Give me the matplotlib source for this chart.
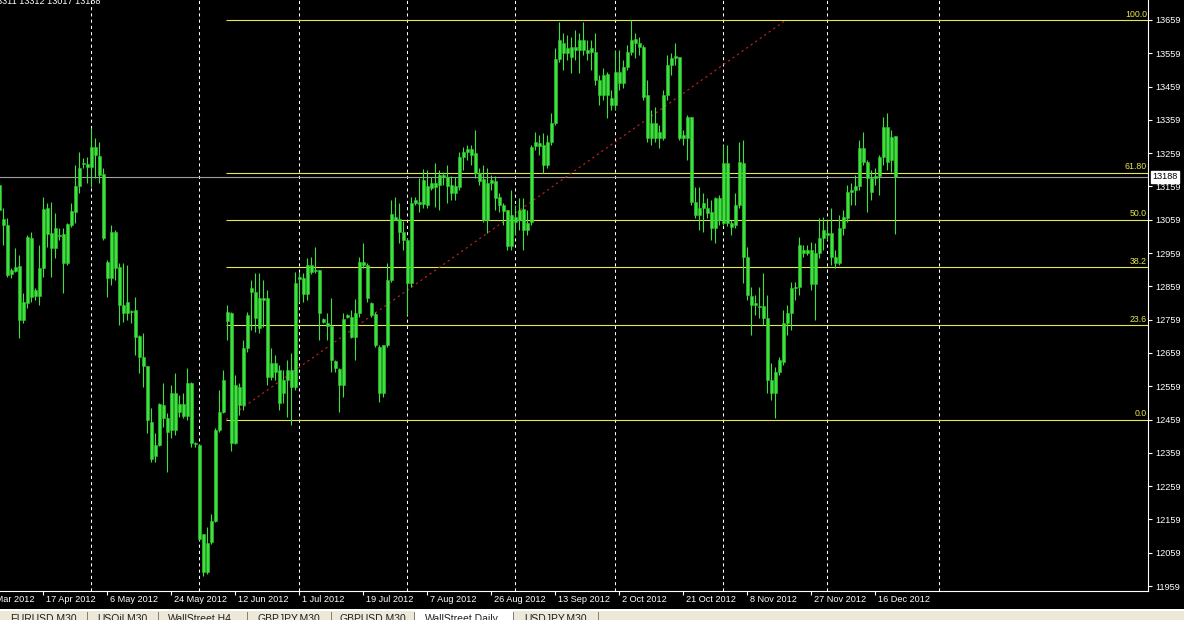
# -*- coding: utf-8 -*-
"""WallStreet daily candles with a Fibonacci retracement, MT4 style."""

import matplotlib
matplotlib.use('Agg')
import matplotlib.pyplot as plt
from matplotlib.patches import Rectangle
from matplotlib.transforms import blended_transform_factory

plt.rcParams['font.family'] = ['Liberation Sans', 'DejaVu Sans']

# Daily bars, index 0 = first bar on screen (late March 2012).
opens = [
    13164, 13062, 13044, 12897, 12906, 12921, 12759, 12810, 13005, 12831, 12831, 12915, 13095, 13020, 12975,
    13014, 13017, 12930, 13044, 13083, 13161, 13230, 13227, 13218, 13278, 13251, 13197, 12933, 12885, 13023,
    12918, 12804, 12780, 12786, 12789, 12711, 12648, 12621, 12453, 12348, 12381, 12504, 12465, 12429, 12540,
    12507, 12471, 12471, 12570, 12390, 12381, 12114, 12000, 12090, 12153, 12429, 12483, 12756, 12780, 12390,
    12558, 12504, 12675, 12855, 12843, 12735, 12825, 12825, 12588, 12630, 12609, 12540, 12579, 12609, 12558,
    12888, 12885, 12837, 12924, 12906, 12909, 12762, 12750, 12741, 12636, 12612, 12564, 12774, 12768, 12708,
    12780, 12933, 12924, 12810, 12777, 12678, 12540, 12684, 12879, 13068, 13062, 13023, 12999, 12870, 13110,
    13113, 13107, 13161, 13155, 13170, 13164, 13194, 13188, 13164, 13140, 13158, 13248, 13263, 13272, 13260,
    13200, 13182, 13059, 13170, 13174, 13128, 13104, 13089, 12979, 13068, 13059, 13092, 13029, 13053, 13280,
    13290, 13284, 13224, 13293, 13350, 13542, 13590, 13560, 13578, 13569, 13569, 13599, 13569, 13563, 13563,
    13479, 13434, 13497, 13425, 13404, 13503, 13470, 13518, 13563, 13602, 13590, 13578, 13434, 13305, 13350,
    13305, 13305, 13434, 13524, 13545, 13548, 13305, 13305, 13368, 13113, 13074, 13095, 13095, 13083, 13035,
    13125, 13050, 13230, 13050, 13044, 13104, 13230, 12948, 12831, 12810, 12801, 12801, 12765, 12579, 12540,
    12603, 12633, 12750, 12780, 12855, 12858, 12969, 12960, 12969, 12867, 12960, 13005, 13020, 13020, 12948,
    12930, 13035, 13065, 13143, 13149, 13161, 13275, 13233, 13185, 13185, 13191, 13248, 13338, 13239, 13311,
]
highs = [
    13179, 13095, 13065, 12915, 12975, 12954, 12840, 13014, 13023, 12855, 12984, 13128, 13110, 13113, 13080,
    13035, 13035, 13050, 13110, 13224, 13263, 13245, 13248, 13335, 13305, 13293, 13215, 12939, 13044, 13029,
    12930, 12930, 12924, 12789, 12828, 12714, 12720, 12621, 12495, 12420, 12510, 12570, 12480, 12564, 12600,
    12534, 12540, 12615, 12573, 12393, 12384, 12114, 12135, 12174, 12435, 12549, 12609, 12804, 12783, 12594,
    12570, 12699, 12783, 12879, 12900, 12900, 12879, 12849, 12675, 12654, 12624, 12609, 12639, 12660, 12903,
    12903, 12900, 12945, 12948, 12978, 12909, 12765, 12780, 12825, 12639, 12615, 12780, 12777, 12789, 12822,
    12948, 12990, 12930, 12813, 12783, 12684, 12684, 12930, 13119, 13128, 13110, 13054, 13005, 13128, 13128,
    13185, 13212, 13209, 13188, 13230, 13209, 13203, 13224, 13191, 13188, 13263, 13278, 13284, 13284, 13329,
    13215, 13224, 13215, 13194, 13191, 13140, 13110, 13089, 13149, 13104, 13125, 13125, 13089, 13284, 13323,
    13314, 13320, 13314, 13380, 13575, 13653, 13620, 13614, 13608, 13629, 13620, 13653, 13599, 13599, 13620,
    13494, 13515, 13503, 13449, 13569, 13569, 13539, 13584, 13659, 13620, 13608, 13584, 13479, 13389, 13398,
    13344, 13449, 13554, 13560, 13590, 13548, 13329, 13374, 13368, 13158, 13158, 13140, 13125, 13119, 13128,
    13134, 13284, 13284, 13059, 13140, 13293, 13299, 12978, 12858, 12834, 12858, 12900, 12834, 12630, 12618,
    12648, 12789, 12804, 12873, 12873, 13008, 12984, 12984, 12993, 12990, 13065, 13068, 13059, 13095, 12969,
    13074, 13089, 13164, 13170, 13194, 13299, 13323, 13239, 13209, 13215, 13254, 13368, 13380, 13329, 13312,
]
lows = [
    12990, 12984, 12888, 12885, 12903, 12705, 12750, 12795, 12813, 12819, 12804, 12888, 12978, 12888, 12945,
    12999, 12840, 12924, 13038, 13050, 13140, 13215, 13170, 13158, 13185, 13170, 12999, 12828, 12864, 12879,
    12744, 12753, 12759, 12750, 12654, 12600, 12558, 12420, 12330, 12330, 12378, 12438, 12300, 12405, 12414,
    12468, 12465, 12459, 12375, 12375, 12096, 11988, 11994, 12084, 12150, 12423, 12480, 12699, 12363, 12384,
    12474, 12489, 12663, 12729, 12723, 12720, 12738, 12564, 12579, 12579, 12489, 12510, 12468, 12444, 12549,
    12813, 12813, 12819, 12897, 12900, 12699, 12750, 12699, 12603, 12603, 12483, 12528, 12765, 12705, 12639,
    12768, 12915, 12813, 12768, 12678, 12513, 12528, 12678, 12873, 13059, 12990, 12969, 12774, 12858, 13104,
    13083, 13095, 13095, 13149, 13098, 13089, 13164, 13110, 13119, 13119, 13149, 13209, 13239, 13224, 13185,
    13164, 13053, 13020, 13149, 13089, 13083, 13044, 12969, 12969, 13014, 13029, 12969, 13014, 13044, 13269,
    13254, 13200, 13215, 13284, 13344, 13533, 13509, 13539, 13500, 13539, 13500, 13554, 13539, 13509, 13464,
    13404, 13419, 13365, 13389, 13389, 13449, 13455, 13509, 13554, 13545, 13554, 13419, 13293, 13284, 13293,
    13275, 13299, 13419, 13494, 13524, 13299, 13284, 13239, 13104, 13065, 13029, 13023, 13065, 12999, 12990,
    13044, 13044, 13041, 13014, 13035, 13095, 12870, 12819, 12714, 12774, 12765, 12744, 12540, 12519, 12465,
    12594, 12624, 12714, 12729, 12819, 12834, 12948, 12954, 12849, 12759, 12945, 12969, 12999, 12924, 12915,
    12924, 13014, 13053, 13104, 13104, 13149, 13224, 13083, 13119, 13164, 13134, 13224, 13209, 13203, 13017,
]
closes = [
    13089, 13044, 12894, 12909, 12918, 12759, 12813, 13008, 12828, 12849, 12915, 13092, 13017, 12975, 13035,
    13011, 12930, 13047, 13086, 13161, 13215, 13225, 13218, 13278, 13254, 13194, 13005, 12885, 13023, 12915,
    12804, 12780, 12813, 12783, 12708, 12648, 12621, 12459, 12339, 12381, 12507, 12465, 12423, 12540, 12429,
    12483, 12507, 12570, 12390, 12384, 12099, 12000, 12087, 12153, 12429, 12483, 12579, 12783, 12390, 12564,
    12504, 12675, 12774, 12843, 12765, 12825, 12819, 12588, 12630, 12603, 12510, 12579, 12609, 12558, 12870,
    12882, 12837, 12924, 12903, 12909, 12780, 12753, 12741, 12639, 12615, 12564, 12762, 12768, 12708, 12780,
    12933, 12924, 12825, 12774, 12684, 12540, 12684, 12879, 13077, 13059, 13023, 12999, 12870, 13110, 13119,
    13107, 13179, 13104, 13170, 13158, 13194, 13188, 13161, 13140, 13161, 13248, 13263, 13272, 13254, 13200,
    13176, 13059, 13170, 13179, 13125, 13104, 13086, 12981, 13074, 13053, 13089, 13029, 13050, 13278, 13294,
    13282, 13224, 13293, 13350, 13542, 13599, 13560, 13575, 13548, 13578, 13599, 13569, 13560, 13575, 13479,
    13434, 13494, 13434, 13404, 13503, 13470, 13518, 13563, 13599, 13590, 13578, 13428, 13305, 13350, 13305,
    13323, 13434, 13524, 13545, 13551, 13305, 13314, 13368, 13113, 13074, 13095, 13110, 13080, 13035, 13125,
    13059, 13230, 13050, 13038, 13104, 13233, 12948, 12834, 12804, 12804, 12798, 12765, 12579, 12540, 12603,
    12639, 12750, 12780, 12855, 12858, 12984, 12960, 12969, 12867, 12960, 13005, 13029, 13014, 12948, 12930,
    13035, 13068, 13143, 13149, 13161, 13275, 13233, 13185, 13143, 13191, 13248, 13338, 13233, 13308, 13188,
]
assert len(opens) == len(highs) == len(lows) == len(closes)

date_ticks = [-5, 11, 27, 43, 59, 75, 91, 107, 123, 139, 155, 171, 187, 203, 219]
date_labels = ['29 Mar 2012', '17 Apr 2012', '6 May 2012', '24 May 2012',
               '12 Jun 2012', '1 Jul 2012', '19 Jul 2012', '7 Aug 2012',
               '26 Aug 2012', '13 Sep 2012', '2 Oct 2012', '21 Oct 2012',
               '8 Nov 2012', '27 Nov 2012', '16 Dec 2012']
month_starts = [23, 50, 75, 102, 129, 154, 181, 207, 235]
price_ticks = [11959, 12059, 12159, 12259, 12359, 12459, 12559, 12659, 12759,
               12859, 12959, 13059, 13159, 13259, 13359, 13459, 13559, 13659]

fib_low, fib_high = 12459, 13659
fib_anchor_bars = (56.7, 196.7)
fib_levels = [0.0, 23.6, 38.2, 50.0, 61.8, 100.0]
fib_labels = ['0.0', '23.6', '38.2', '50.0', '61.80', '100.0']
last_price = 13188
ohlc_caption = '13311 13312 13017 13188'

tabs = ['EURUSD,M30', 'USOil,M30', 'WallStreet,H4', 'GBPJPY,M30',
        'GBPUSD,M30', 'WallStreet,Daily', 'USDJPY,M30']
tab_left_px = [10, 97, 168, 258, 340, 425, 524]
tab_sep_px = [87, 158, 247, 331, 414, 513, 598]

GREEN = '#3ee23e'
YELLOW = '#e6e650'
W, H = 1184, 620
PLOT_W, PLOT_H = 1148, 591
X_LIM = (0.175, 287.2)
Y_LIM = (11944, 13719)


def main():
    fig = plt.figure(figsize=(W / 100, H / 100), dpi=100, facecolor='black')
    ax = fig.add_axes([0, (H - PLOT_H) / H, PLOT_W / W, PLOT_H / H])
    ax.set_facecolor('black')
    ax.set_xlim(*X_LIM)
    ax.set_ylim(*Y_LIM)

    # month separators
    for k in month_starts:
        ax.axvline(k, color='white', lw=0.75, ls=(0, (3, 3)), zorder=1)

    # candles
    bars = list(range(len(opens)))
    ax.vlines(bars, lows, highs, color=GREEN, lw=0.8, zorder=3)
    bottoms = [min(o, c) for o, c in zip(opens, closes)]
    heights = [max(abs(c - o), 3) for o, c in zip(opens, closes)]
    ax.bar(bars, heights, bottom=bottoms, width=0.72, color=GREEN,
           edgecolor='#2fc82f', linewidth=0.4, zorder=4)

    # current price line
    ax.axhline(last_price, color='#a0a0a0', lw=0.8, zorder=2)

    # Fibonacci retracement
    x_right = X_LIM[1]
    for level, label in zip(fib_levels, fib_labels):
        price = fib_low + (fib_high - fib_low) * level / 100.0
        ax.hlines(price, fib_anchor_bars[0], x_right, color=YELLOW, lw=0.8,
                  zorder=2)
        ax.text(x_right - 0.3, price + 4, label, color=YELLOW, fontsize=6.3,
                ha='right', va='bottom', zorder=5)
    ax.plot(fib_anchor_bars, [fib_low, fib_high], color='#c82424', lw=0.8,
            ls=(0, (2, 3)), zorder=2)

    # axes frame
    for side in ('top', 'left'):
        ax.spines[side].set_visible(False)
    for side in ('right', 'bottom'):
        ax.spines[side].set_color('white')
        ax.spines[side].set_linewidth(0.8)

    ax.yaxis.tick_right()
    ax.set_yticks(price_ticks)
    ax.set_yticklabels([str(p) for p in price_ticks])
    ax.tick_params(axis='y', colors='white', labelsize=6.6, length=3,
                   width=0.8, pad=2)
    ax.set_xticks([k for k in date_ticks if k > X_LIM[0]])
    ax.set_xticklabels([])
    ax.tick_params(axis='x', colors='white', length=3, width=0.8)

    below = blended_transform_factory(ax.transData, ax.transAxes)
    for k, label in zip(date_ticks, date_labels):
        ax.text(k + 0.8, -0.006, label, transform=below, color='white',
                fontsize=6.6, ha='left', va='top', clip_on=False)

    right = blended_transform_factory(ax.transAxes, ax.transData)
    ax.text(1.004, last_price, str(last_price), transform=right, color='black',
            fontsize=6.6, ha='left', va='center', zorder=6,
            bbox=dict(boxstyle='square,pad=0.18', fc='white', ec='white'))

    # OHLC readout, partly scrolled off the top-left corner
    fig.text(100 / W, 1 - 1 / H, ohlc_caption, color='white', fontsize=6.6,
             ha='right', va='center')

    # tab strip at the bottom of the terminal window
    fig.patches.append(Rectangle((0, 0), 1, 9 / H, transform=fig.transFigure,
                                 fc='#ece9d8', ec='none'))
    fig.patches.append(Rectangle((0, 9 / H), 1, 2 / H,
                                 transform=fig.transFigure, fc='white',
                                 ec='none'))
    fig.patches.append(Rectangle((414 / W, 0), 99 / W, 11 / H,
                                 transform=fig.transFigure, fc='white',
                                 ec='none'))
    for px in tab_sep_px:
        fig.patches.append(Rectangle((px / W, 0), 1 / W, 8 / H,
                                     transform=fig.transFigure, fc='#808080',
                                     ec='none'))
    for name, px in zip(tabs, tab_left_px):
        fig.text(px / W, 1.5 / H, name, color='#202020', fontsize=7.5,
                 ha='left', va='center')

    fig.savefig('out.png', dpi=100, facecolor='black')


if __name__ == '__main__':
    main()
